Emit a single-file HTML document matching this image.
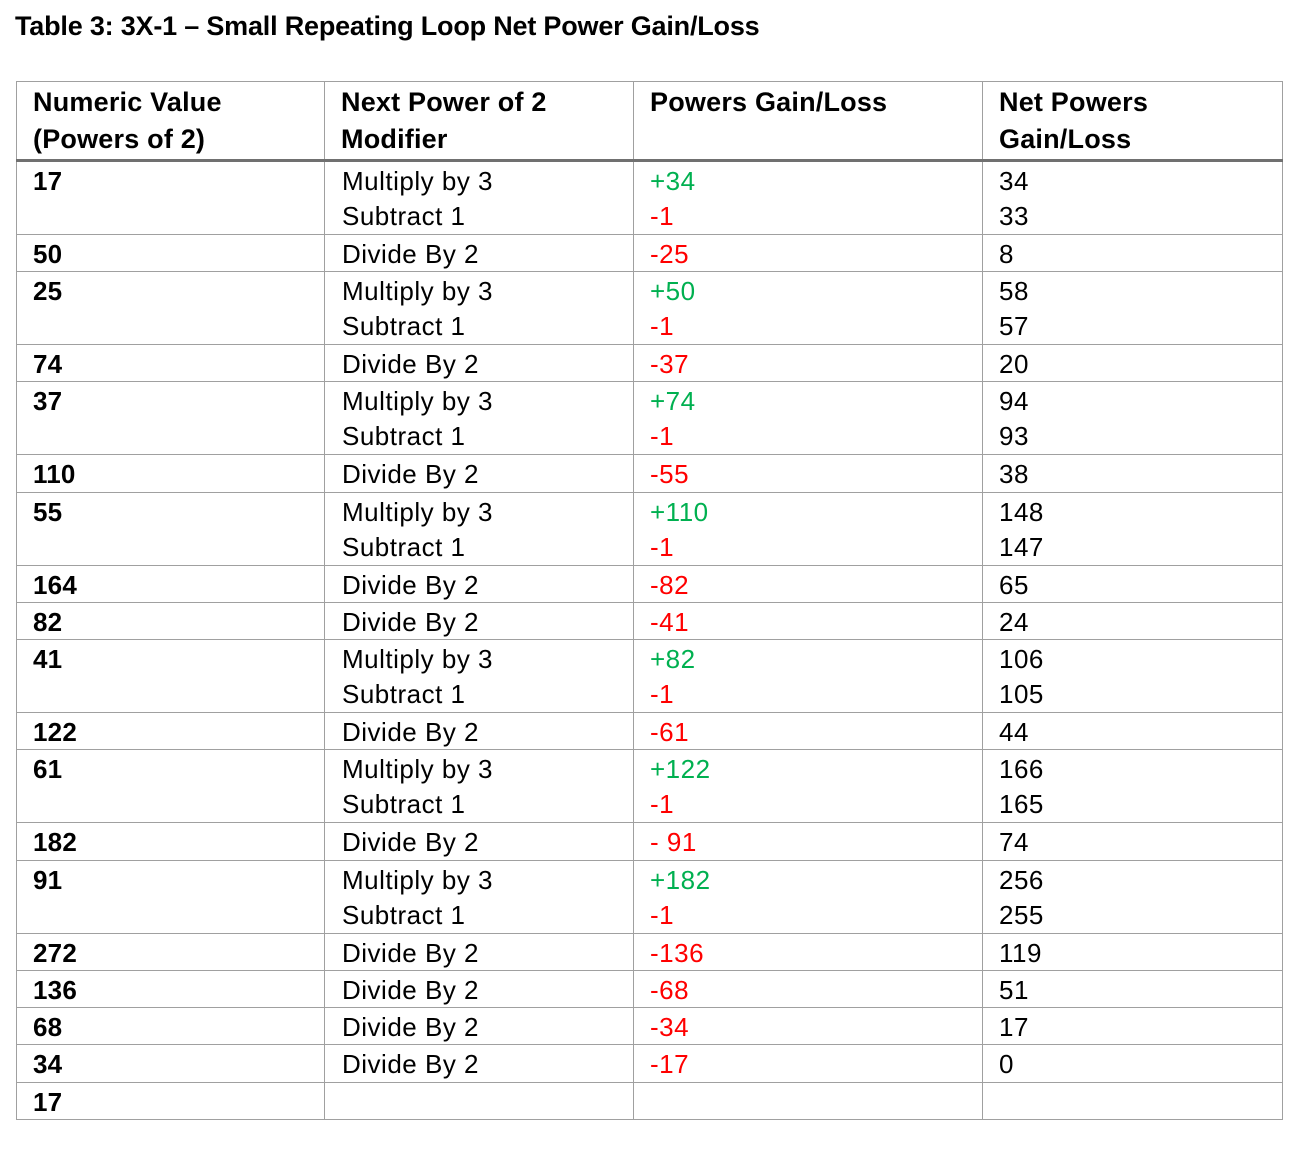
<!DOCTYPE html>
<html><head><meta charset="utf-8"><style>
body{margin:0;width:1305px;height:1154px;background:#fff;font-family:"Liberation Sans",Arial,sans-serif;color:#000;position:relative;overflow:hidden}
h1{position:absolute;left:15px;top:9px;margin:0;font-size:27px;font-weight:bold;letter-spacing:-0.2px;line-height:34px}
table{position:absolute;left:16px;top:81px;border-collapse:collapse;table-layout:fixed;width:1266px}
td,th{border:1px solid #a0a0a0;vertical-align:top;padding:2px 0 0 16px;font-size:26px;line-height:34px;text-align:left;box-sizing:border-box;letter-spacing:0.5px;overflow:hidden}
th{font-weight:bold;font-size:27px;padding-top:2px;line-height:37px;height:79px;border-bottom:3px solid #707070;letter-spacing:0.2px}
td.n{font-weight:bold;letter-spacing:0.2px}
td.c2{padding-left:17px}
tr.s td{height:37px}
tr.s.t td{height:38px}
tr.d td{height:73px;line-height:35px}
.g{color:#00b050}.r{color:#ff0000}
</style></head><body>
<h1>Table 3: 3X-1 – Small Repeating Loop Net Power Gain/Loss</h1>
<table>
<colgroup><col style="width:308px"><col style="width:309px"><col style="width:349px"><col style="width:300px"></colgroup>
<tr><th>Numeric Value<br>(Powers of 2)</th><th class="c2">Next Power of 2<br>Modifier</th><th>Powers Gain/Loss</th><th>Net Powers<br>Gain/Loss</th></tr>
<tr class="d"><td class="n">17</td><td class="c2">Multiply by 3<br>Subtract 1</td><td><span class="g">+34</span><br><span class="r">-1</span></td><td>34<br>33</td></tr>
<tr class="s"><td class="n">50</td><td class="c2">Divide By 2</td><td class="r">-25</td><td>8</td></tr>
<tr class="d"><td class="n">25</td><td class="c2">Multiply by 3<br>Subtract 1</td><td><span class="g">+50</span><br><span class="r">-1</span></td><td>58<br>57</td></tr>
<tr class="s"><td class="n">74</td><td class="c2">Divide By 2</td><td class="r">-37</td><td>20</td></tr>
<tr class="d"><td class="n">37</td><td class="c2">Multiply by 3<br>Subtract 1</td><td><span class="g">+74</span><br><span class="r">-1</span></td><td>94<br>93</td></tr>
<tr class="s t"><td class="n">110</td><td class="c2">Divide By 2</td><td class="r">-55</td><td>38</td></tr>
<tr class="d"><td class="n">55</td><td class="c2">Multiply by 3<br>Subtract 1</td><td><span class="g">+110</span><br><span class="r">-1</span></td><td>148<br>147</td></tr>
<tr class="s"><td class="n">164</td><td class="c2">Divide By 2</td><td class="r">-82</td><td>65</td></tr>
<tr class="s"><td class="n">82</td><td class="c2">Divide By 2</td><td class="r">-41</td><td>24</td></tr>
<tr class="d"><td class="n">41</td><td class="c2">Multiply by 3<br>Subtract 1</td><td><span class="g">+82</span><br><span class="r">-1</span></td><td>106<br>105</td></tr>
<tr class="s"><td class="n">122</td><td class="c2">Divide By 2</td><td class="r">-61</td><td>44</td></tr>
<tr class="d"><td class="n">61</td><td class="c2">Multiply by 3<br>Subtract 1</td><td><span class="g">+122</span><br><span class="r">-1</span></td><td>166<br>165</td></tr>
<tr class="s t"><td class="n">182</td><td class="c2">Divide By 2</td><td class="r">- 91</td><td>74</td></tr>
<tr class="d"><td class="n">91</td><td class="c2">Multiply by 3<br>Subtract 1</td><td><span class="g">+182</span><br><span class="r">-1</span></td><td>256<br>255</td></tr>
<tr class="s"><td class="n">272</td><td class="c2">Divide By 2</td><td class="r">-136</td><td>119</td></tr>
<tr class="s"><td class="n">136</td><td class="c2">Divide By 2</td><td class="r">-68</td><td>51</td></tr>
<tr class="s"><td class="n">68</td><td class="c2">Divide By 2</td><td class="r">-34</td><td>17</td></tr>
<tr class="s t"><td class="n">34</td><td class="c2">Divide By 2</td><td class="r">-17</td><td>0</td></tr>
<tr class="s"><td class="n">17</td><td class="c2"></td><td></td><td></td></tr>
</table>
</body></html>
